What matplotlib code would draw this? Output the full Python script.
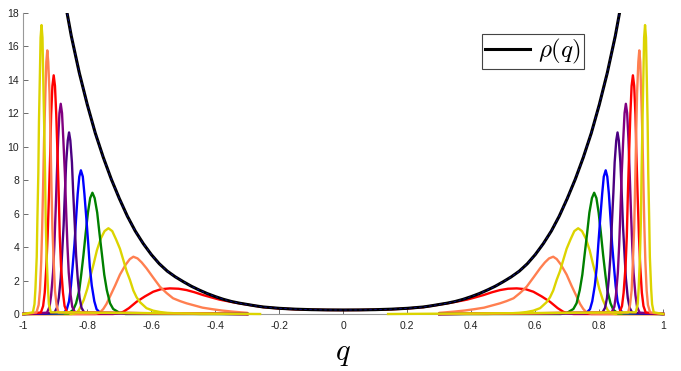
import matplotlib.pyplot as plt

plt.rcParams['mathtext.fontset'] = 'cm'
plt.rcParams['font.family'] = ['Liberation Sans', 'DejaVu Sans']

rho_q = [0.0, 0.05, 0.10, 0.15, 0.20, 0.25, 0.275, 0.30, 0.325, 0.35, 0.375,
         0.40, 0.425, 0.45, 0.475, 0.50, 0.525, 0.55, 0.575, 0.60, 0.625,
         0.65, 0.675, 0.70, 0.725, 0.75, 0.775, 0.80, 0.825, 0.85, 0.875, 0.90]
rho_v = [0.24, 0.245, 0.26, 0.29, 0.34, 0.42, 0.49, 0.57, 0.65, 0.75, 0.88,
         1.04, 1.22, 1.43, 1.66, 1.93, 2.22, 2.56, 3.0, 3.55, 4.2,
         4.95, 5.85, 6.9, 8.05, 9.35, 10.8, 12.5, 14.4, 16.6, 19.2, 22.3]

# left-hand humps, innermost first; the right-hand ones are their mirror image
bump_colors = ['#ff0000', '#ff7f50', '#dcd400', '#008000', '#0000ff',
               '#4b0082', '#800080', '#ff0000', '#ff7f50', '#dcd400']

bump_q = [
    [-0.72, -0.70, -0.687, -0.67, -0.646, -0.62, -0.594, -0.57, -0.542, -0.515,
     -0.49, -0.465, -0.438, -0.41, -0.387, -0.36, -0.335, -0.30, -0.25, -0.20,
     -0.15, -0.10, -0.05, 0.0],
    [-0.775, -0.76, -0.75, -0.74, -0.729, -0.713, -0.698, -0.68, -0.667, -0.656,
     -0.643, -0.63, -0.615, -0.595, -0.573, -0.552, -0.532, -0.51, -0.49, -0.465,
     -0.44, -0.41, -0.38, -0.35, -0.32, -0.30],
    [-0.85, -0.835, -0.826, -0.818, -0.811, -0.80, -0.791, -0.78, -0.77, -0.758,
     -0.746, -0.734, -0.722, -0.71, -0.698, -0.687, -0.677, -0.667, -0.656, -0.646,
     -0.635, -0.615, -0.594, -0.573, -0.55, -0.52, -0.48, -0.45],
    [-0.858, -0.844, -0.835, -0.825, -0.819, -0.812, -0.805, -0.798, -0.791, -0.784,
     -0.777, -0.769, -0.762, -0.754, -0.747, -0.739, -0.729, -0.719, -0.70, -0.68],
    [-0.874, -0.864, -0.857, -0.851, -0.846, -0.840, -0.835, -0.830, -0.825, -0.820,
     -0.814, -0.809, -0.803, -0.797, -0.792, -0.786, -0.778, -0.771, -0.759],
    [-0.903, -0.895, -0.889, -0.883, -0.879, -0.874, -0.870, -0.866, -0.861, -0.857,
     -0.853, -0.848, -0.844, -0.839, -0.835, -0.830, -0.824, -0.818, -0.809],
    [-0.926, -0.918, -0.913, -0.907, -0.903, -0.899, -0.895, -0.891, -0.887, -0.883,
     -0.879, -0.875, -0.870, -0.866, -0.862, -0.858, -0.852, -0.847, -0.838],
    [-0.945, -0.938, -0.933, -0.928, -0.924, -0.920, -0.916, -0.913, -0.909, -0.905,
     -0.901, -0.897, -0.893, -0.889, -0.886, -0.882, -0.876, -0.871, -0.863],
    [-0.959, -0.952, -0.948, -0.944, -0.941, -0.938, -0.935, -0.931, -0.928, -0.925,
     -0.922, -0.918, -0.915, -0.912, -0.909, -0.905, -0.901, -0.896, -0.890],
    [-0.970, -0.965, -0.962, -0.958, -0.956, -0.953, -0.951, -0.948, -0.946, -0.943,
     -0.940, -0.938, -0.935, -0.932, -0.930, -0.927, -0.923, -0.920, -0.914],
]
bump_y = [
    [0.0, 0.04, 0.14, 0.35, 0.73, 1.05, 1.33, 1.48, 1.53, 1.51,
     1.43, 1.30, 1.13, 0.98, 0.86, 0.76, 0.67, 0.56, 0.41, 0.33,
     0.28, 0.255, 0.24, 0.235],
    [0.0, 0.1, 0.3, 0.6, 1.05, 1.7, 2.35, 2.95, 3.28, 3.42,
     3.32, 3.08, 2.73, 2.2, 1.63, 1.25, 0.94, 0.77, 0.64, 0.51,
     0.38, 0.29, 0.21, 0.15, 0.10, 0.07],
    [0.0, 0.06, 0.24, 0.55, 0.84, 1.5, 2.2, 3.0, 3.8, 4.5,
     4.95, 5.12, 4.95, 4.45, 3.9, 3.2, 2.55, 2.05, 1.4, 1.0,
     0.7, 0.35, 0.2, 0.12, 0.07, 0.04, 0.02, 0.0],
    [0.04, 0.25, 0.64, 1.43, 2.35, 3.52, 4.83, 6.05, 6.92, 7.24,
     6.92, 6.05, 4.83, 3.52, 2.35, 1.43, 0.64, 0.30, 0.08, 0.0],
    [0.05, 0.29, 0.76, 1.70, 2.79, 4.18, 5.72, 7.17, 8.20, 8.58,
     8.20, 7.17, 5.72, 4.18, 2.79, 1.70, 0.76, 0.29, 0.05],
    [0.07, 0.37, 0.96, 2.15, 3.52, 5.28, 7.23, 9.05, 10.36, 10.84,
     10.36, 9.05, 7.23, 5.28, 3.52, 2.15, 0.96, 0.37, 0.07],
    [0.08, 0.43, 1.12, 2.48, 4.07, 6.11, 8.37, 10.48, 12.00, 12.55,
     12.00, 10.48, 8.37, 6.11, 4.07, 2.48, 1.12, 0.43, 0.08],
    [0.09, 0.48, 1.27, 2.82, 4.63, 6.94, 9.50, 11.90, 13.62, 14.25,
     13.62, 11.90, 9.50, 6.94, 4.63, 2.82, 1.27, 0.48, 0.09],
    [0.09, 0.54, 1.40, 3.11, 5.11, 7.66, 10.50, 13.15, 15.05, 15.74,
     15.05, 13.15, 10.50, 7.66, 5.11, 3.11, 1.40, 0.54, 0.09],
    [0.10, 0.59, 1.53, 3.41, 5.60, 8.40, 11.51, 14.41, 16.49, 17.25,
     16.49, 14.41, 11.51, 8.40, 5.60, 3.41, 1.53, 0.59, 0.10],
]
# where each line stops on the left and starts again on the right
left_end = [None, -0.30, -0.30, -0.30, -0.30, -0.30, -0.30, -0.30, -0.30, -0.26]
right_start = [None, 0.30, 0.30, 0.30, 0.30, 0.30, 0.30, 0.30, 0.30, 0.14]

xtick_vals = [-1, -0.8, -0.6, -0.4, -0.2, 0, 0.2, 0.4, 0.6, 0.8, 1]
xtick_labels = ['-1', '-0.8', '-0.6', '-0.4', '-0.2', '0', '0.2', '0.4', '0.6', '0.8', '1']
ytick_vals = [0, 2, 4, 6, 8, 10, 12, 14, 16, 18]

fig = plt.figure(figsize=(6.81, 3.71), dpi=100)
ax = fig.add_axes([0.0342, 0.1536, 0.9398, 0.8127])

for k, col in enumerate(bump_colors):
    q, y = bump_q[k], bump_y[k]
    if left_end[k] is None:
        # one line over the whole range, mirrored through q = 0
        qq = [-1.0] + q + [-v for v in reversed(q[:-1])] + [1.0]
        yy = [0.0] + y + list(reversed(y[:-1])) + [0.0]
        ax.plot(qq, yy, color=col, lw=1.7, zorder=3, clip_on=False)
    else:
        ax.plot([-1.0] + q + [left_end[k]], [0.0] + y + [0.0],
                color=col, lw=1.7, zorder=3, clip_on=False)
        ax.plot([right_start[k]] + [-v for v in reversed(q)] + [1.0],
                [0.0] + list(reversed(y)) + [0.0],
                color=col, lw=1.7, zorder=3, clip_on=False)

rq = [-v for v in reversed(rho_q[1:])] + rho_q
rv = list(reversed(rho_v[1:])) + rho_v
ax.plot(rq, rv, color='black', lw=2.2, zorder=4, label=r'$\rho(q)$')
ax.plot(rq, rv, color='#1010d0', lw=0.6, ls=(0, (3, 3)), alpha=0.7, zorder=5)

ax.set_xlim(-1, 1)
ax.set_ylim(0, 18)
ax.set_xticks(xtick_vals)
ax.set_xticklabels(xtick_labels)
ax.set_yticks(ytick_vals)
ax.tick_params(direction='in', length=3.5, width=0.6, color='#555555',
               labelsize=7.5, labelcolor='#222222')
ax.tick_params(axis='x', pad=5)
ax.tick_params(axis='y', pad=3)
for side in ['top', 'right']:
    ax.spines[side].set_visible(False)
for side in ['left', 'bottom']:
    ax.spines[side].set_color('#999999')
    ax.spines[side].set_linewidth(0.8)

ax.set_xlabel(r'$q$', fontsize=22, labelpad=5)

leg = ax.legend(loc='upper right', bbox_to_anchor=(0.876, 0.929), borderaxespad=0,
                fontsize=18, handlelength=1.8, handletextpad=0.3, borderpad=0.12,
                fancybox=False, framealpha=1)
leg.get_frame().set_edgecolor('#444444')
leg.get_frame().set_linewidth(0.8)

fig.savefig('out.png', dpi=100)
